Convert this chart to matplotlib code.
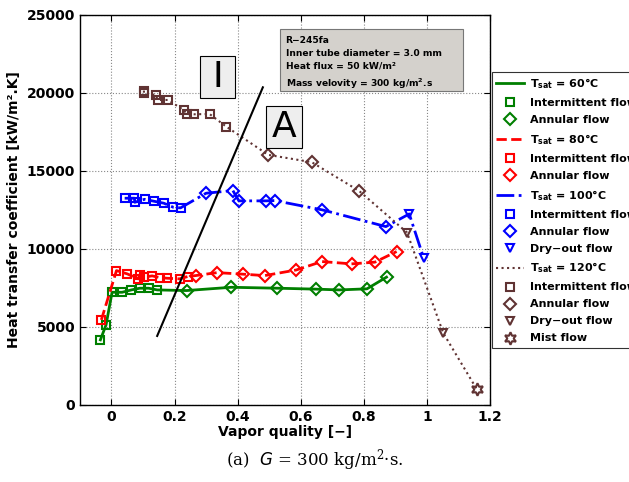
import numpy as np
import matplotlib.pyplot as plt
from matplotlib.lines import Line2D
from matplotlib.patches import Rectangle

plt.rcParams['font.family'] = ['DejaVu Sans']
plt.rcParams['mathtext.default'] = 'regular'

# T_sat = 60 C
x60_int = [-0.035, -0.017, 0.002, 0.034, 0.063, 0.09, 0.118, 0.145]
h60_int = [4170, 5130, 7220, 7220, 7370, 7480, 7480, 7370]
x60_ann = [0.238, 0.38, 0.526, 0.65, 0.722, 0.81, 0.872]
h60_ann = [7330, 7540, 7480, 7420, 7370, 7440, 8190]

# T_sat = 80 C
x80_int = [-0.032, 0.016, 0.05, 0.085, 0.089, 0.103, 0.129, 0.153, 0.177, 0.216, 0.242]
h80_int = [5450, 8610, 8400, 8080, 8330, 8190, 8270, 8160, 8120, 8080, 8230]
x80_ann = [0.267, 0.335, 0.417, 0.486, 0.586, 0.667, 0.761, 0.835, 0.904]
h80_ann = [8290, 8480, 8380, 8290, 8650, 9190, 9040, 9150, 9830]

# T_sat = 100 C
x100_int = [0.042, 0.073, 0.074, 0.105, 0.134, 0.166, 0.196, 0.219]
h100_int = [13250, 13250, 12990, 13180, 13060, 12930, 12670, 12630]
x100_ann = [0.30, 0.385, 0.404, 0.491, 0.517, 0.669, 0.87]
h100_ann = [13570, 13740, 13080, 13080, 13100, 12500, 11430]
x100_dry = [0.944, 0.99]
h100_dry = [12240, 9400]

# T_sat = 120 C
x120_int = [0.103, 0.103, 0.14, 0.147, 0.179, 0.229, 0.238, 0.261, 0.311, 0.364]
h120_int = [20150, 19980, 19870, 19550, 19550, 18910, 18650, 18630, 18650, 17840]
x120_ann = [0.497, 0.635, 0.785]
h120_ann = [16030, 15560, 13720]
x120_dry = [0.937, 1.052]
h120_dry = [11050, 4600]
x120_mist = [1.158]
h120_mist = [1010]

# I/A transition line
x_trans = [0.145, 0.48]
h_trans = [4420, 20360]

c60, c80, c100, c120 = '#007f00', '#ff0000', '#0000ff', '#603333'
star6 = (6, 1, 0)

fig = plt.figure(figsize=(6.29, 4.82), dpi=100)
ax = fig.add_axes([0.127, 0.160, 0.652, 0.809])

ms = 6
mew = 1.5

def series(xs, hs, color, ls, lw, regimes):
    ax.plot(np.concatenate(xs), np.concatenate(hs), ls, color=color, lw=lw)
    for (xx, hh), m in zip(zip(xs, hs), regimes):
        size = 9 if m == star6 else ms
        ax.plot(xx, hh, marker=m, ls='none', mfc='none', mec=color, ms=size, mew=mew)

series([x60_int, x60_ann], [h60_int, h60_ann], c60, '-', 2, ['s', 'D'])
series([x80_int, x80_ann], [h80_int, h80_ann], c80, '--', 2, ['s', 'D'])
series([x100_int, x100_ann, x100_dry], [h100_int, h100_ann, h100_dry], c100, '-.', 2, ['s', 'D', 'v'])
series([x120_int, x120_ann, x120_dry, x120_mist], [h120_int, h120_ann, h120_dry, h120_mist],
       c120, ':', 1.5, ['s', 'D', 'v', star6])

ax.plot(x_trans, h_trans, 'k-', lw=1.5)

# flow-regime labels
ax.add_patch(Rectangle((0.280, 19660), 0.111, 2730, fc='#eeeeee', ec='black', lw=0.8, zorder=3))
ax.text(0.336, 21030, 'I', fontsize=26, ha='center', va='center', zorder=4)
ax.add_patch(Rectangle((0.491, 16460), 0.113, 2730, fc='#eeeeee', ec='black', lw=0.8, zorder=3))
ax.text(0.548, 17820, 'A', fontsize=26, ha='center', va='center', zorder=4)

# info box
ax.add_patch(Rectangle((0.533, 20130), 0.581, 3970, fc='#d4d1cc', ec='#777777', lw=0.8, zorder=3))
info = ('R\u2212245fa\nInner tube diameter = 3.0 mm\nHeat flux = 50 kW/m\u00b2\n'
        'Mass velovity = 300 kg/m$^2$.s')
ax.text(0.552, 23650, info, fontsize=6.6, fontweight='bold', va='top', ha='left',
        linespacing=1.55, zorder=4)

ax.set_xlim(-0.1, 1.2)
ax.set_ylim(0, 25000)
ax.set_xticks([0, 0.2, 0.4, 0.6, 0.8, 1, 1.2])
ax.set_xticklabels(['0', '0.2', '0.4', '0.6', '0.8', '1', '1.2'])
ax.set_yticks([0, 5000, 10000, 15000, 20000, 25000])
ax.tick_params(direction='in', top=True, right=True, labelsize=10, length=4)
for lab in ax.get_xticklabels() + ax.get_yticklabels():
    lab.set_fontweight('bold')
ax.grid(True, ls=':', color='#888888', lw=0.8)
for s in ax.spines.values():
    s.set_linewidth(1.0)

ax.set_xlabel('Vapor quality [\u2212]', fontsize=10, fontweight='bold', labelpad=1)
ax.set_ylabel('Heat transfer coefficient [kW/m\u00b2.K]', fontsize=10, fontweight='bold', labelpad=4)

fig.text(0.5, 0.045, '(a)  $\\it{G}$ = 300 kg/m$^2$\u00b7s.', ha='center', va='center',
         fontsize=12, family='DejaVu Serif')

def mk(m, c, size=ms):
    return Line2D([], [], ls='none', marker=m, mfc='none', mec=c, ms=size, mew=mew)

handles = [
    Line2D([], [], color=c60, ls='-', lw=2), mk('s', c60), mk('D', c60),
    Line2D([], [], color=c80, ls='--', lw=2), mk('s', c80), mk('D', c80),
    Line2D([], [], color=c100, ls='-.', lw=2), mk('s', c100), mk('D', c100), mk('v', c100),
    Line2D([], [], color=c120, ls=':', lw=1.5), mk('s', c120), mk('D', c120), mk('v', c120),
    mk(star6, c120, 9),
]
labels = [
    'T$_{sat}$ = 60\u00b0C', 'Intermittent flow', 'Annular flow',
    'T$_{sat}$ = 80\u00b0C', 'Intermittent flow', 'Annular flow',
    'T$_{sat}$ = 100\u00b0C', 'Intermittent flow', 'Annular flow', 'Dry\u2212out flow',
    'T$_{sat}$ = 120\u00b0C', 'Intermittent flow', 'Annular flow', 'Dry\u2212out flow', 'Mist flow',
]
leg = fig.legend(handles, labels, loc='upper left', bbox_to_anchor=(0.782, 0.851),
                 prop={'weight': 'bold', 'size': 8}, fancybox=False, edgecolor='black',
                 handlelength=2.5, handletextpad=0.5, labelspacing=0.63, borderaxespad=0)
leg.get_frame().set_linewidth(0.8)

fig.savefig('out.png', dpi=100)
